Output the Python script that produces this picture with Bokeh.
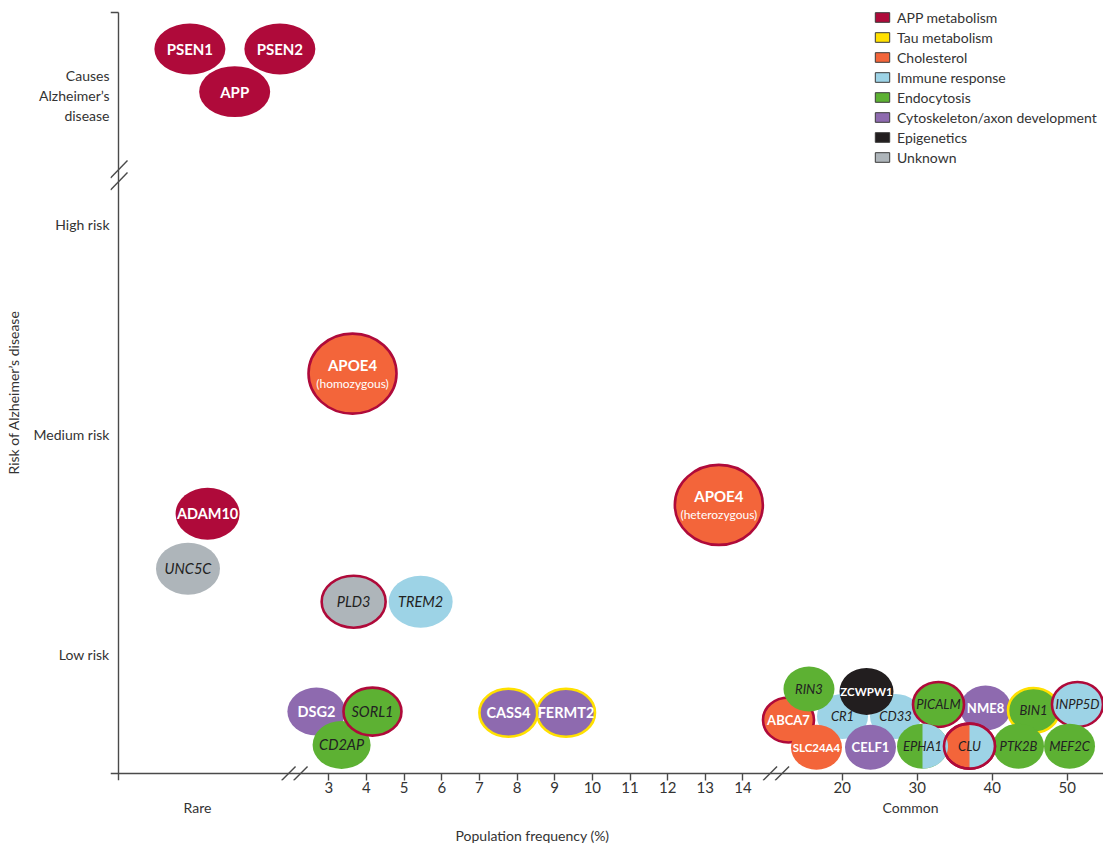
import numpy as np
from bokeh.plotting import figure
from bokeh.models import (ColumnDataSource, Range1d, FixedTicker, Legend, LegendItem,
                          LinearAxis)
from bokeh.core.properties import value
from bokeh.embed import file_html
from bokeh.resources import INLINE

# ---------------- data ----------------
genes = ["PSEN1", "PSEN2", "APP", "ADAM10", "UNC5C", "APOE4", "APOE4", "PLD3", "TREM2",
         "DSG2", "CD2AP", "SORL1", "CASS4", "FERMT2", "ABCA7", "CR1", "RIN3", "CD33",
         "ZCWPW1", "SLC24A4", "CELF1", "NME8", "PICALM", "BIN1", "INPP5D", "EPHA1",
         "PTK2B", "MEF2C", "CLU"]
genotype = ["", "", "", "", "", "(homozygous)", "(heterozygous)", "", "",
            "", "", "", "", "", "", "", "", "",
            "", "", "", "", "", "", "", "",
            "", "", ""]
# which part of the broken frequency axis the variant sits in
segment = ["rare", "rare", "rare", "rare", "rare", "low", "low", "low", "low",
           "low", "low", "low", "low", "low", "common", "common", "common", "common",
           "common", "common", "common", "common", "common", "common", "common", "common",
           "common", "common", "common"]
# population frequency (%) read along the broken axis (rare zone uses the low-frequency scale)
freq = [-0.69, 1.70, 0.50, -0.22, -0.74, 3.63, 13.36, 3.66, 5.44,
        2.67, 3.34, 4.16, 7.77, 9.30, 12.84, 20.04, 15.57, 27.11,
        23.24, 16.57, 23.77, 39.11, 32.84, 45.51, 51.37, 30.71,
        43.51, 50.31, 36.97]
# risk: 1 = low, 2 = medium, 3 = high, 4 = causes Alzheimer's disease
risk = [4.36, 4.36, 4.03, 1.64, 1.39, 2.29, 1.68, 1.24, 1.24,
        0.52, 0.24, 0.52, 0.51, 0.51, 0.45, 0.48, 0.71, 0.48,
        0.69, 0.22, 0.22, 0.55, 0.58, 0.53, 0.58, 0.23,
        0.23, 0.23, 0.23]
category = ["APP metabolism", "APP metabolism", "APP metabolism", "APP metabolism", "Unknown",
            "Cholesterol", "Cholesterol", "Unknown", "Immune response",
            "Cytoskeleton/axon development", "Endocytosis", "Endocytosis",
            "Cytoskeleton/axon development", "Cytoskeleton/axon development",
            "Cholesterol", "Immune response", "Endocytosis", "Immune response",
            "Epigenetics", "Cholesterol", "Cytoskeleton/axon development",
            "Cytoskeleton/axon development", "Endocytosis", "Endocytosis", "Immune response",
            "Endocytosis", "Endocytosis", "Endocytosis", "Cholesterol"]
ring = ["", "", "", "", "", "APP metabolism", "APP metabolism", "APP metabolism", "",
        "", "", "APP metabolism", "Tau metabolism", "Tau metabolism", "APP metabolism", "", "", "",
        "", "", "", "", "APP metabolism", "Tau metabolism", "APP metabolism", "",
        "", "", "APP metabolism"]
half = ["", "", "", "", "", "", "", "", "",
        "", "", "", "", "", "", "", "", "",
        "", "", "", "", "", "", "", "Immune response",
        "", "", "Immune response"]

categories = ["APP metabolism", "Tau metabolism", "Cholesterol", "Immune response",
              "Endocytosis", "Cytoskeleton/axon development", "Epigenetics", "Unknown"]
category_colors = ["#AF0A3A", "#FFE000", "#F3653A", "#9DD3E6",
                   "#5DB133", "#8E6AAF", "#221E1F", "#AEB5BA"]

x_ticks_low = [3, 4, 5, 6, 7, 8, 9, 10, 11, 12, 13, 14]
x_ticks_common = [20, 30, 40, 50]
zone_labels = ["Rare", "Common"]
x_title = "Population frequency (%)"
risk_levels = [1, 2, 3, 4]
risk_labels = ["Low risk", "Medium risk", "High risk", "Causes\nAlzheimer\u2019s\ndisease"]
y_title = "Risk of Alzheimer\u2019s disease"

# ---------------- broken-axis scales (units = screen px from the axis origin) ----------------
LOW_AT3, LOW_STEP = 210.3, 37.65        # position of the 3 % tick and spacing per %
COMMON_AT20, COMMON_STEP = 723.7, 7.5   # position of the 20 % tick and spacing per %
RISK_KNOTS = [0, 1, 2, 3, 4, 5]
RISK_POS = [0, 119, 339, 549, 678, 807]
X_END, Y_TOP = 985, 761                 # axis extents
ZONE_POS = [79, 792]                    # centres of the "Rare" / "Common" captions
TITLE_POS = 414


def x_pos(v, seg="low"):
    if seg == "common":
        return COMMON_AT20 + (v - 20) * COMMON_STEP
    return LOW_AT3 + (v - 3) * LOW_STEP


def y_pos(r):
    return float(np.interp(r, RISK_KNOTS, RISK_POS))


color_of = dict(zip(categories, category_colors))
DARK_FILLS = {"APP metabolism", "Cholesterol", "Cytoskeleton/axon development", "Epigenetics"}


def bubble_size(g, seg, r, note):
    if note:
        return 88, 80
    if r >= 4:
        return 71, 51
    if seg == "rare" or r >= 1:
        return 64, 52
    if seg == "low":
        return 58, 48
    if g == "ZCWPW1":
        return 54, 47
    return 51, 45


xs = [x_pos(v, s) for v, s in zip(freq, segment)]
ys = [y_pos(r) for r in risk]
sizes = [bubble_size(g, s, r, n) for g, s, r, n in zip(genes, segment, risk, genotype)]
ws = [a for a, b in sizes]
hs = [b for a, b in sizes]

p = figure(width=1103, height=846, x_range=Range1d(-8, X_END), y_range=Range1d(-7, 769),
           output_backend="svg", toolbar_location=None, title=None,
           min_border_left=110, min_border_right=0, min_border_top=4, min_border_bottom=66)
p.grid.visible = False
p.outline_line_color = None
p.background_fill_color = "white"
p.border_fill_color = "white"

AXIS_COL = "#4a4a4a"
TXT_COL = "#333333"
FONT = "Lato"

# x axis: ticks and numbers (axis line drawn at the zero of the risk scale below)
xt = [round(x_pos(v, "low"), 2) for v in x_ticks_low] + \
     [round(x_pos(v, "common"), 2) for v in x_ticks_common]
xl = [str(v) for v in x_ticks_low + x_ticks_common]
p.xaxis.ticker = FixedTicker(ticks=xt)
p.xaxis.major_label_overrides = dict(zip(xt, xl))
p.xaxis.axis_line_color = None
p.xaxis.major_tick_in = 7
p.xaxis.major_tick_out = 0
p.xaxis.major_tick_line_color = AXIS_COL
p.xaxis.major_tick_line_width = 1.4
p.xaxis.minor_tick_line_color = None
p.xaxis.major_label_standoff = 1
p.xaxis.major_label_text_font = FONT
p.xaxis.major_label_text_font_size = "15px"
p.xaxis.major_label_text_color = TXT_COL


def caption_axis(ticks, labels, standoff, size):
    ax = LinearAxis(ticker=FixedTicker(ticks=ticks),
                    major_label_overrides=dict(zip(ticks, labels)),
                    axis_line_color=None, major_tick_line_color=None,
                    minor_tick_line_color=None, major_tick_in=0, major_tick_out=0,
                    major_label_standoff=standoff, major_label_text_font=FONT,
                    major_label_text_font_size=size, major_label_text_color=TXT_COL)
    p.add_layout(ax, "below")


caption_axis(ZONE_POS, zone_labels, 3, "14px")
caption_axis([TITLE_POS], [x_title], 8, "14px")

# y axis
yt = [round(y_pos(r), 2) for r in risk_levels]
p.yaxis.ticker = FixedTicker(ticks=yt)
p.yaxis.major_label_overrides = dict(zip(yt, risk_labels))
p.yaxis.axis_line_color = None
p.yaxis.major_tick_out = 0
p.yaxis.major_tick_in = 0
p.yaxis.minor_tick_line_color = None
p.yaxis.major_label_standoff = 1
p.yaxis.major_label_text_font = FONT
p.yaxis.major_label_text_font_size = "14px"
p.yaxis.major_label_text_color = TXT_COL
p.yaxis.axis_label = y_title
p.yaxis.axis_label_text_font = FONT
p.yaxis.axis_label_text_font_style = "normal"
p.yaxis.axis_label_text_font_size = "14px"
p.yaxis.axis_label_text_color = TXT_COL
p.yaxis.axis_label_standoff = 9

# axis lines, breaks and top end tick
sx0, sy0, sx1, sy1 = [0, -8, -8], [-7, 0, Y_TOP], [0, X_END, 0], [Y_TOP, 0, Y_TOP]
yb = y_pos(3.38)
for c in (yb - 6, yb + 6):
    sx0 += [-8]; sy0 += [c - 8.5]; sx1 += [9]; sy1 += [c + 9]
for bx in (x_pos(2.09), x_pos(14.88)):
    for c in (bx - 6, bx + 6):
        sx0 += [c - 7]; sy0 += [-7]; sx1 += [c + 7]; sy1 += [7]
p.segment(x0=sx0, y0=sy0, x1=sx1, y1=sy1, line_color=AXIS_COL, line_width=1.4)

# bubbles
fills = [color_of[c] for c in category]
ring_cols = [color_of[r] if r else "#ffffff" for r in ring]
ring_alpha = [1.0 if r else 0.0 for r in ring]
src = ColumnDataSource(dict(x=xs, y=ys, w=ws, h=hs, fill=fills, rc=ring_cols, ra=ring_alpha))
p.ellipse(x="x", y="y", width="w", height="h", fill_color="fill", line_color="rc",
          line_alpha="ra", line_width=2.6, source=src)

# right halves of genes spanning two pathways
hx, hy, hc = [], [], []
t = np.linspace(-np.pi / 2, np.pi / 2, 60)
for x, y, w, h, hf in zip(xs, ys, ws, hs, half):
    if hf:
        hx.append(list(x + w / 2 * np.cos(t)))
        hy.append(list(y + h / 2 * np.sin(t)))
        hc.append(color_of[hf])
p.patches(xs=hx, ys=hy, fill_color=hc, line_color=None)

# redraw rings of split bubbles on top
idx = [i for i in range(len(genes)) if half[i] and ring[i]]
p.ellipse(x=[xs[i] for i in idx], y=[ys[i] for i in idx], width=[ws[i] for i in idx],
          height=[hs[i] for i in idx], fill_alpha=0, line_color=[ring_cols[i] for i in idx],
          line_width=2.6)


# gene labels
def fsize(g, seg, r, white):
    if r >= 4:
        return "15px"
    if seg == "common":
        if white and len(g) >= 6:
            return "11.5px"
        return "13px"
    return "14.5px"


light = dict(x=[], y=[], text=[], size=[], off=[])
dark = dict(x=[], y=[], text=[], size=[], off=[])
notes = dict(x=[], y=[], text=[])
for g, n, s, c, hf, x, y, r in zip(genes, genotype, segment, category, half, xs, ys, risk):
    white = c in DARK_FILLS and not hf
    d = light if white else dark
    d["x"].append(x); d["y"].append(y); d["text"].append(g)
    d["size"].append("15px" if n else fsize(g, s, r, white))
    d["off"].append(-9 if n else 0)
    if n:
        notes["x"].append(x); notes["y"].append(y); notes["text"].append(n)

p.text(x="x", y="y", text="text", source=ColumnDataSource(light), text_color="white",
       text_font=value(FONT), text_font_style="bold", text_font_size="size",
       y_offset="off", text_align="center", text_baseline="middle")
p.text(x="x", y="y", text="text", source=ColumnDataSource(dark), text_color="#222222",
       text_font=value(FONT), text_font_style="italic", text_font_size="size",
       y_offset="off", text_align="center", text_baseline="middle")
p.text(x="x", y="y", text="text", source=ColumnDataSource(notes), text_color="white",
       text_font=value(FONT), text_font_size="12px", y_offset=10,
       text_align="center", text_baseline="middle")

# legend (swatch renderers hold no visible points)
items = []
for cat, col in zip(categories, category_colors):
    r = p.quad(left=[np.nan], right=[np.nan], top=[np.nan], bottom=[np.nan], fill_color=col,
               line_color="#3a3a3a", line_width=1)
    items.append(LegendItem(label=cat, renderers=[r]))
legend = Legend(items=items, location=(763, 613), orientation="vertical",
                glyph_width=18, glyph_height=12, label_standoff=6, label_height=20,
                spacing=0, padding=0, margin=0, border_line_color=None,
                background_fill_alpha=0, label_text_font=FONT,
                label_text_font_size="14px", label_text_color=TXT_COL)
p.add_layout(legend)

open("out.html", "w").write(file_html(p, INLINE))
